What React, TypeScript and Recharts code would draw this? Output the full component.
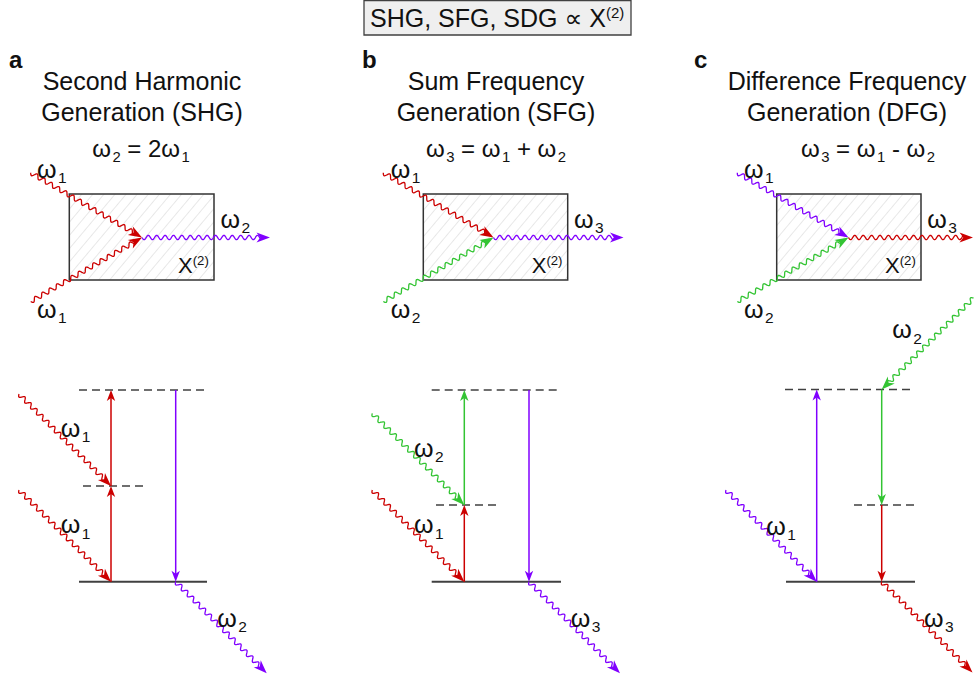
import { ComposedChart, ReferenceArea, ReferenceDot, ReferenceLine, XAxis, YAxis } from "recharts";

const WIDTH = 974;
const HEIGHT = 681;
const FONT = '"Liberation Sans", Arial, "DejaVu Sans", sans-serif';

type Beam = "red" | "purple" | "green";

const BEAM_COLORS: Record<Beam, string> = {
  red: "#cc0000",
  purple: "#8000ff",
  green: "#33c433",
};
const INK = "#404040";

// header box
const HEADER = { text: "SHG, SFG, SDG ∝ X^(2)", x: 370, y: 27 };
const HEADER_BOX = { x1: 364, x2: 631, y1: 0.5, y2: 35 };

const PANEL_LETTERS = [
  { text: "a", x: 9, y: 68 },
  { text: "b", x: 362, y: 68 },
  { text: "c", x: 694, y: 68 },
];

const TITLES = [
  { lines: ["Second Harmonic", "Generation (SHG)"], x: 142 },
  { lines: ["Sum Frequency", "Generation (SFG)"], x: 496 },
  { lines: ["Difference Frequency", "Generation (DFG)"], x: 847 },
];
const TITLE_BASELINES = [90, 120.5];

const EQUATIONS = [
  { text: "ω_2 = 2ω_1", x: 141, y: 157 },
  { text: "ω_3 = ω_1 + ω_2", x: 496, y: 157 },
  { text: "ω_3 = ω_1 - ω_2", x: 868, y: 157 },
];

// χ(2) crystals
const CRYSTALS = [
  { x1: 69.3, x2: 214, y1: 194, y2: 280 },
  { x1: 423.3, x2: 567.7, y1: 194, y2: 280 },
  { x1: 776.7, x2: 921, y1: 194, y2: 280 },
];

// photons: wavy arrows from (x1, y1) to (x2, y2)
const PHOTONS: { x1: number; y1: number; x2: number; y2: number; beam: Beam }[] = [
  // a, crystal
  { x1: 30.7, y1: 172.7, x2: 142, y2: 237.5, beam: "red" },
  { x1: 30.7, y1: 301.5, x2: 142, y2: 237.5, beam: "red" },
  { x1: 142, y1: 237.5, x2: 270, y2: 237.5, beam: "purple" },
  // b, crystal
  { x1: 383.3, y1: 172.7, x2: 493.5, y2: 237.5, beam: "red" },
  { x1: 383.3, y1: 301.5, x2: 493.5, y2: 237.5, beam: "green" },
  { x1: 493.5, y1: 237.5, x2: 623.5, y2: 237.5, beam: "purple" },
  // c, crystal
  { x1: 737.3, y1: 172.7, x2: 848.5, y2: 237.5, beam: "purple" },
  { x1: 737.3, y1: 301.5, x2: 848.5, y2: 237.5, beam: "green" },
  { x1: 848.5, y1: 237.5, x2: 973, y2: 237.5, beam: "red" },
  // a, levels
  { x1: 19, y1: 394, x2: 111, y2: 486, beam: "red" },
  { x1: 19, y1: 490, x2: 111, y2: 581.7, beam: "red" },
  { x1: 175.7, y1: 581.7, x2: 266.7, y2: 673.3, beam: "purple" },
  // b, levels
  { x1: 372.3, y1: 413.3, x2: 464.3, y2: 505, beam: "green" },
  { x1: 372.3, y1: 490, x2: 464.3, y2: 581.7, beam: "red" },
  { x1: 529, y1: 581.7, x2: 620, y2: 673.3, beam: "purple" },
  // c, levels
  { x1: 973.5, y1: 298, x2: 881.7, y2: 389.5, beam: "green" },
  { x1: 726, y1: 490, x2: 816.7, y2: 581.7, beam: "purple" },
  { x1: 881.7, y1: 581.7, x2: 972.5, y2: 672.5, beam: "red" },
];

// energy levels
const LEVELS: { x1: number; x2: number; y: number; virtual: boolean }[] = [
  { x1: 79, x2: 207, y: 390, virtual: true },
  { x1: 83, x2: 143, y: 486, virtual: true },
  { x1: 79, x2: 207, y: 581.7, virtual: false },
  { x1: 431.7, x2: 559.3, y: 390, virtual: true },
  { x1: 436, x2: 496.7, y: 505, virtual: true },
  { x1: 431.7, x2: 561, y: 581.7, virtual: false },
  { x1: 785, x2: 913.3, y: 389.5, virtual: true },
  { x1: 854, x2: 915, y: 505, virtual: true },
  { x1: 786, x2: 915, y: 581.7, virtual: false },
];

// transitions between levels
const TRANSITIONS: { x: number; from: number; to: number; beam: Beam }[] = [
  { x: 111, from: 581.7, to: 486, beam: "red" },
  { x: 111, from: 486, to: 390, beam: "red" },
  { x: 175.7, from: 390, to: 581.7, beam: "purple" },
  { x: 464.3, from: 581.7, to: 505, beam: "red" },
  { x: 464.3, from: 505, to: 390, beam: "green" },
  { x: 529, from: 390, to: 581.7, beam: "purple" },
  { x: 816.7, from: 581.7, to: 389.5, beam: "purple" },
  { x: 881.7, from: 389.5, to: 505, beam: "green" },
  { x: 881.7, from: 505, to: 581.7, beam: "red" },
];

const LABELS = [
  { text: "ω_1", x: 37, y: 178 },
  { text: "ω_2", x: 220.5, y: 228 },
  { text: "X^(2)", x: 178, y: 273.3 },
  { text: "ω_1", x: 37, y: 318 },
  { text: "ω_1", x: 390.7, y: 178 },
  { text: "ω_3", x: 574, y: 228 },
  { text: "X^(2)", x: 531.7, y: 273.3 },
  { text: "ω_2", x: 390.7, y: 318 },
  { text: "ω_1", x: 744, y: 178 },
  { text: "ω_3", x: 927.3, y: 228 },
  { text: "X^(2)", x: 885, y: 273.3 },
  { text: "ω_2", x: 744, y: 318 },
  { text: "ω_1", x: 60.7, y: 436.7 },
  { text: "ω_1", x: 60.7, y: 533.3 },
  { text: "ω_2", x: 217.3, y: 626.7 },
  { text: "ω_2", x: 414, y: 456.7 },
  { text: "ω_1", x: 414, y: 533.3 },
  { text: "ω_3", x: 570.7, y: 626.7 },
  { text: "ω_2", x: 892.3, y: 338.3 },
  { text: "ω_1", x: 766.3, y: 535 },
  { text: "ω_3", x: 924, y: 626.7 },
];

const WAVE_PERIOD = 8.4;
const WAVE_AMP = 2.2;

type Pt = { x: number; y: number };

function arrowHead(tip: Pt, ux: number, uy: number, len: number, half: number) {
  const nx = -uy;
  const ny = ux;
  const bx = tip.x - ux * len;
  const by = tip.y - uy * len;
  const notch = { x: tip.x - ux * len * 0.72, y: tip.y - uy * len * 0.72 };
  return [
    [tip.x, tip.y],
    [bx + nx * half, by + ny * half],
    [notch.x, notch.y],
    [bx - nx * half, by - ny * half],
  ]
    .map((p) => p.join(","))
    .join(" ");
}

// wavy photon with a barbed head at the far end
function WavyArrow(props: any) {
  const { x1, y1, x2, y2, stroke } = props;
  const dx = x2 - x1;
  const dy = y2 - y1;
  const len = Math.hypot(dx, dy);
  const ux = dx / len;
  const uy = dy / len;
  const head = 13.5;
  const body = len - head * 0.7;
  const steps = Math.max(2, Math.ceil(body / 0.5));
  const pts: string[] = [];
  for (let i = 0; i <= steps; i++) {
    const s = (body * i) / steps;
    const w = WAVE_AMP * Math.sin((2 * Math.PI * s) / WAVE_PERIOD);
    pts.push(`${(x1 + ux * s - uy * w).toFixed(2)},${(y1 + uy * s + ux * w).toFixed(2)}`);
  }
  return (
    <g>
      <path d={`M${pts.join("L")}`} fill="none" stroke={stroke} strokeWidth={1.3} strokeLinejoin="round" />
      <polygon points={arrowHead({ x: x2, y: y2 }, ux, uy, head, 5)} fill={stroke} />
    </g>
  );
}

function StraightArrow(props: any) {
  const { x1, y1, x2, y2, stroke } = props;
  const dx = x2 - x1;
  const dy = y2 - y1;
  const len = Math.hypot(dx, dy);
  const ux = dx / len;
  const uy = dy / len;
  const head = 11;
  return (
    <g>
      <line
        x1={x1}
        y1={y1}
        x2={x2 - ux * head * 0.7}
        y2={y2 - uy * head * 0.7}
        stroke={stroke}
        strokeWidth={1.5}
      />
      <polygon points={arrowHead({ x: x2, y: y2 }, ux, uy, head, 4.2)} fill={stroke} />
    </g>
  );
}

// text with ω_1 style subscripts and X^(2) style superscripts
function RichText({
  x,
  y,
  text,
  size,
  anchor = "start",
  weight = "normal",
}: {
  x: number;
  y: number;
  text: string;
  size: number;
  anchor?: "start" | "middle";
  weight?: string;
}) {
  const tokens = text.split(/(_\d|\^\(\d\))/).filter(Boolean);
  let offset = 0;
  const spans = tokens.map((tok, i) => {
    let target = 0;
    let body = tok;
    let fs = size;
    let dx = 0;
    if (tok.startsWith("_")) {
      target = size * 0.21;
      body = tok.slice(1);
      fs = size * 0.62;
      dx = size * 0.06;
    } else if (tok.startsWith("^")) {
      target = -size * 0.36;
      body = tok.slice(1);
      fs = size * 0.6;
    }
    const dy = target - offset;
    offset = target;
    return (
      <tspan key={i} dy={dy} dx={dx || undefined} fontSize={fs}>
        {body}
      </tspan>
    );
  });
  return (
    <text
      x={x}
      y={y}
      fontFamily={FONT}
      fontSize={size}
      fontWeight={weight}
      textAnchor={anchor}
      fill="#111"
      style={{ whiteSpace: "pre" }}
    >
      {spans}
    </text>
  );
}

function TextMark({
  x,
  y,
  text,
  size,
  anchor,
  weight,
}: {
  x: number;
  y: number;
  text: string;
  size: number;
  anchor?: "start" | "middle";
  weight?: string;
}) {
  return (
    <ReferenceDot
      x={x}
      y={y}
      r={0}
      ifOverflow="visible"
      shape={(p: any) => (
        <RichText x={p.cx} y={p.cy} text={text} size={size} anchor={anchor} weight={weight} />
      )}
    />
  );
}

export default function App() {
  return (
    <div style={{ position: "absolute", left: 0, top: 0, background: "#fff" }}>
      <svg width={0} height={0} style={{ position: "absolute" }}>
        <defs>
          <pattern
            id="crystal-hatch"
            width={8.5}
            height={8.5}
            patternUnits="userSpaceOnUse"
            patternTransform="rotate(40)"
          >
            <rect width={8.5} height={8.5} fill="#fff" />
            <line x1={0} y1={0} x2={0} y2={8.5} stroke="#d6d6d6" strokeWidth={1.1} />
          </pattern>
        </defs>
      </svg>
      <ComposedChart width={WIDTH} height={HEIGHT} margin={{ top: 0, right: 0, bottom: 0, left: 0 }} data={[]}>
        <XAxis type="number" dataKey="x" domain={[0, WIDTH]} hide allowDataOverflow />
        <YAxis type="number" domain={[0, HEIGHT]} reversed hide allowDataOverflow />

        <ReferenceArea
          {...HEADER_BOX}
          fill="#efefef"
          fillOpacity={1}
          stroke={INK}
          strokeWidth={1.3}
          ifOverflow="visible"
        />
        {CRYSTALS.map((c, i) => (
          <ReferenceArea
            key={`crystal-${i}`}
            {...c}
            fill="url(#crystal-hatch)"
            fillOpacity={1}
            stroke="#333"
            strokeWidth={1.5}
            ifOverflow="visible"
          />
        ))}

        {LEVELS.map((l, i) => (
          <ReferenceLine
            key={`level-${i}`}
            segment={[
              { x: l.x1, y: l.y },
              { x: l.x2, y: l.y },
            ]}
            stroke={INK}
            strokeWidth={l.virtual ? 1.5 : 2}
            strokeDasharray={l.virtual ? "8 5" : undefined}
            ifOverflow="visible"
          />
        ))}

        {TRANSITIONS.map((t, i) => (
          <ReferenceLine
            key={`transition-${i}`}
            segment={[
              { x: t.x, y: t.from },
              { x: t.x, y: t.to },
            ]}
            stroke={BEAM_COLORS[t.beam]}
            ifOverflow="visible"
            shape={StraightArrow}
          />
        ))}

        {PHOTONS.map((p, i) => (
          <ReferenceLine
            key={`photon-${i}`}
            segment={[
              { x: p.x1, y: p.y1 },
              { x: p.x2, y: p.y2 },
            ]}
            stroke={BEAM_COLORS[p.beam]}
            ifOverflow="visible"
            shape={WavyArrow}
          />
        ))}

        {TextMark({ ...HEADER, size: 25 })}
        {PANEL_LETTERS.map((l) => (
          <TextMark key={`letter-${l.text}`} {...l} size={24} weight="bold" />
        ))}
        {TITLES.flatMap((t, i) =>
          t.lines.map((line, j) => (
            <TextMark key={`title-${i}-${j}`} x={t.x} y={TITLE_BASELINES[j]} text={line} size={25} anchor="middle" />
          )),
        )}
        {EQUATIONS.map((e, i) => (
          <TextMark key={`eq-${i}`} {...e} size={24} anchor="middle" />
        ))}
        {LABELS.map((l, i) => (
          <TextMark key={`label-${i}`} {...l} size={l.text.startsWith("X") ? 22 : 25} />
        ))}
      </ComposedChart>
    </div>
  );
}
